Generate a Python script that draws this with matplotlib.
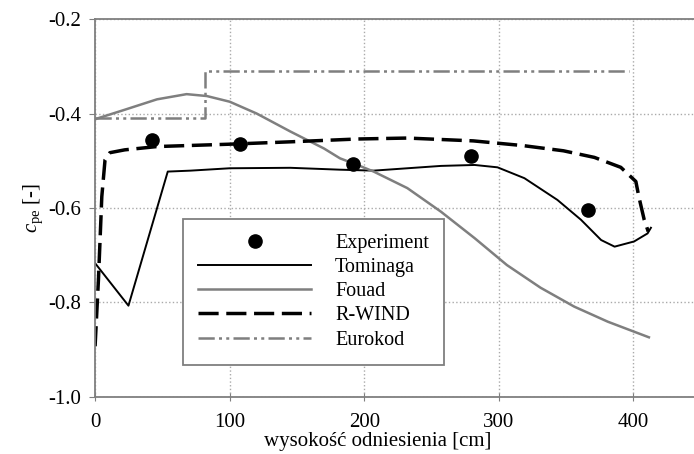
import matplotlib
matplotlib.use('Agg')
import matplotlib.pyplot as plt

plt.rcParams['font.family'] = ['Liberation Serif', 'DejaVu Serif']
plt.rcParams['mathtext.fontset'] = 'custom'
plt.rcParams['mathtext.rm'] = 'Liberation Serif'
plt.rcParams['mathtext.it'] = 'Liberation Serif:italic'

# Experiment
exp_x = [42, 108, 192, 279, 366]
exp_y = [-0.456, -0.465, -0.507, -0.491, -0.604]

# Tominaga
tom_x = [0, 24.8, 54, 71, 100, 145, 182, 207, 232, 257, 282, 299, 319, 343.5, 361, 376, 386, 400.5, 410.5, 413]
tom_y = [-0.717, -0.807, -0.523, -0.521, -0.516, -0.515, -0.519, -0.521, -0.516, -0.511, -0.509, -0.514, -0.537, -0.583, -0.625, -0.668, -0.682, -0.671, -0.654, -0.642]

# Fouad
fou_x = [0, 21, 46, 68, 83, 100, 120, 145, 170, 182, 195, 207, 232, 257, 282, 306, 331, 356, 381, 411.5]
fou_y = [-0.412, -0.393, -0.37, -0.359, -0.363, -0.375, -0.4, -0.438, -0.474, -0.495, -0.509, -0.523, -0.558, -0.608, -0.664, -0.721, -0.769, -0.809, -0.841, -0.874]

# R-WIND
rw_x = [0, 2.5, 5, 7.4, 11, 22, 46, 100, 145, 195, 232, 281, 318, 348, 371, 390.6, 401.8, 404, 408, 411]
rw_y = [-0.893, -0.752, -0.576, -0.498, -0.483, -0.477, -0.47, -0.465, -0.46, -0.454, -0.452, -0.458, -0.468, -0.479, -0.493, -0.514, -0.544, -0.576, -0.625, -0.65]

# Eurokod
eur_x = [0, 82, 82, 397]
eur_y = [-0.41, -0.41, -0.31, -0.31]

fig = plt.figure(figsize=(6.94, 4.54), dpi=100)
ax = fig.add_axes([0.137, 0.126, 0.863, 0.832])

grey = '#7f7f7f'

ax.plot(exp_x, exp_y, 'o', color='black', markersize=9.5, label='Experiment', zorder=5)
ax.plot(tom_x, tom_y, '-', color='black', lw=1.4, label='Tominaga')
ax.plot(fou_x, fou_y, '-', color=grey, lw=1.8, label='Fouad')
ax.plot(rw_x, rw_y, color='black', lw=2.5, dashes=(5.8, 2.2), label='R-WIND')
ax.plot(eur_x, eur_y, color=grey, lw=1.8, dashes=(6.5, 1.7, 1.2, 1.7, 1.2, 1.7), label='Eurokod')

ax.set_xlim(0, 445)
ax.set_ylim(-1.0, -0.2)
ax.set_xticks([0, 100, 200, 300, 400])
ax.set_yticks([-1.0, -0.8, -0.6, -0.4, -0.2])
ax.set_yticklabels(['-1.0', '-0.8', '-0.6', '-0.4', '-0.2'])
ax.grid(True, color='#aaaaaa', linestyle=':', linewidth=1)

for s in ['top', 'left', 'bottom']:
    ax.spines[s].set_color(grey)
    ax.spines[s].set_linewidth(1.3)
ax.spines['right'].set_visible(False)

ax.tick_params(axis='x', direction='inout', length=6, color=grey, labelsize=15, pad=9)
ax.tick_params(axis='y', direction='out', length=4, color=grey, labelsize=15, pad=6)

ax.set_xlabel('wysokość odniesienia [cm]', fontsize=15)
ax.xaxis.set_label_coords(0.472, -0.092)
ax.set_ylabel(r'$\mathit{c}_{\mathrm{pe}}$ [-]', fontsize=15, labelpad=2)

leg = ax.legend(loc='lower left', bbox_to_anchor=(0.147, 0.085), fontsize=14.5,
                frameon=True, fancybox=False, edgecolor=grey, framealpha=1,
                handlelength=5.6, handletextpad=1.2, labelspacing=0.25,
                borderpad=0.75, borderaxespad=0)
leg.get_frame().set_linewidth(1.3)

fig.savefig('out.png', dpi=100)
